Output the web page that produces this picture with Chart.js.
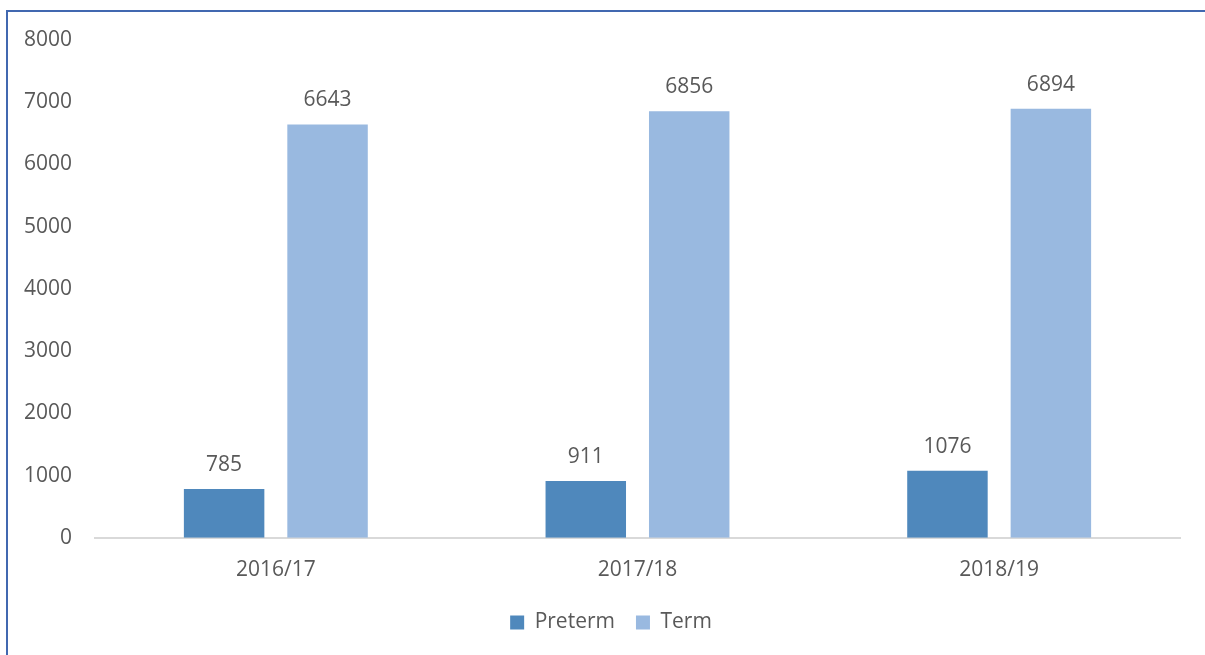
<!DOCTYPE html>
<html lang="en">

<head>
    <meta charset="UTF-8">
    <title>Preterm and Term births</title>
    <script src="https://cdn.jsdelivr.net/npm/chart.js"></script>
    <style>
        html, body { margin: 0; padding: 0; background: #fff; overflow: hidden; }
        #frame {
            position: absolute; left: 6px; top: 10px; width: 1300px; height: 700px;
            border-left: 2px solid #4168b0; border-top: 2px solid #4168b0;
        }
        #births { position: absolute; left: 0; top: 0; }
    </style>
</head>

<body>
    <div id="frame"></div>
    <canvas id="births" width="1205" height="655"></canvas>

    <script>
        // values
        const years = ['2016/17', '2017/18', '2018/19'];
        const preterm = [785, 911, 1076];
        const term = [6643, 6856, 6894];

        const textColor = '#595959';
        const fontFamily = '"Open Sans", sans-serif';

        // writes the value above each bar
        const barValues = {
            id: 'barValues',
            afterDatasetsDraw(chart) {
                const ctx = chart.ctx;
                ctx.save();
                ctx.fillStyle = textColor;
                ctx.font = '21px ' + fontFamily;
                ctx.textAlign = 'center';
                ctx.textBaseline = 'alphabetic';
                chart.data.datasets.forEach((ds, i) => {
                    chart.getDatasetMeta(i).data.forEach((bar, j) => {
                        ctx.fillText(ds.data[j], bar.x, bar.y - 18);
                    });
                });
                ctx.restore();
            }
        };

        // nudge the legend: a bit right and up, like the original
        const legendShift = {
            id: 'legendShift',
            afterLayout(chart) {
                const lg = chart.legend;
                lg.left += 21; lg.right += 21;
                lg.top -= 12; lg.bottom -= 12;
            }
        };

        new Chart(document.getElementById('births'), {
            type: 'bar',
            data: {
                labels: years,
                datasets: [{
                    label: 'Preterm',
                    data: preterm,
                    backgroundColor: '#4f88bc'
                }, {
                    label: 'Term',
                    data: term,
                    backgroundColor: '#99b9e0'
                }]
            },
            options: {
                responsive: false,
                animation: false,
                categoryPercentage: 0.572,
                barPercentage: 0.778,
                layout: { padding: { top: 40, right: 25, left: 0, bottom: 0 } },
                scales: {
                    x: {
                        grid: { display: false, drawTicks: false },
                        border: { display: true, color: '#d9d9d9', width: 2 },
                        ticks: { color: textColor, font: { family: fontFamily, size: 21 }, padding: 20 }
                    },
                    y: {
                        min: 0,
                        max: 8000,
                        grid: { display: false, drawTicks: false },
                        border: { display: false },
                        ticks: {
                            stepSize: 1000,
                            color: textColor,
                            font: { family: fontFamily, size: 21 },
                            padding: 23,
                            callback: v => String(v)
                        },
                        afterFit(scale) { scale.width = 95; }
                    }
                },
                plugins: {
                    legend: {
                        position: 'bottom',
                        labels: {
                            boxWidth: 14,
                            boxHeight: 14,
                            padding: 21,
                            color: textColor,
                            font: { family: fontFamily, size: 21 }
                        }
                    },
                    tooltip: { enabled: false }
                }
            },
            plugins: [barValues, legendShift]
        });
    </script>

</body>

</html>
